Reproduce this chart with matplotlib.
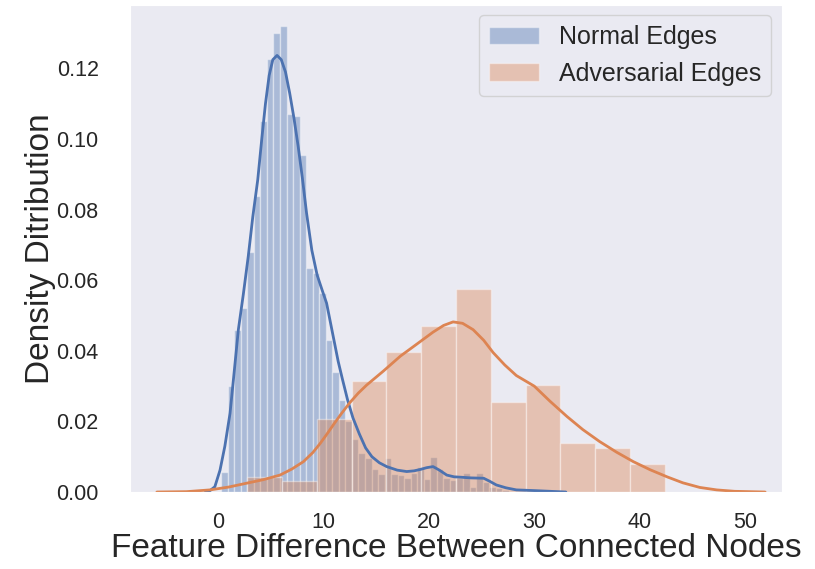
import numpy as np
import matplotlib.pyplot as plt
import seaborn as sns

sns.set_style("dark")
plt.rcParams['font.family'] = ['Liberation Sans', 'DejaVu Sans']

# normal edges: narrow histogram bins (density)
normal_start = 0.3
normal_width = 0.62
normal_heights = [0.0056, 0.030, 0.046, 0.052, 0.068, 0.084, 0.105, 0.1226,
                  0.130, 0.132, 0.107, 0.1065, 0.0956, 0.0635, 0.062, 0.0565,
                  0.043, 0.034, 0.026, 0.020, 0.015, 0.011, 0.0096, 0.0065,
                  0.0051, 0.0096, 0.005, 0.0048, 0.0039, 0.0053, 0.0072,
                  0.0036, 0.010, 0.0064, 0.0039, 0.0034, 0.0039, 0.0053,
                  0.0015, 0.0053, 0.0029, 0.0015, 0.0011, 0.0006]

# adversarial edges: wide bins
adv_start = 2.78
adv_width = 3.3
adv_heights = [0.0043, 0.0031, 0.0207, 0.0315, 0.0398, 0.0469, 0.0575,
               0.0255, 0.0303, 0.0138, 0.0126, 0.0079]

# kde curves
normal_kde_x = [-1.2, -0.76, -0.3, 0.19, 0.65, 1.14, 1.5, 1.93, 2.4, 2.87,
                3.3, 3.77, 4.15, 4.5, 4.85, 5.2, 5.6, 6.0, 6.4, 6.8, 7.2, 7.6,
                8.0, 8.4, 8.9, 9.4, 9.9, 10.3, 10.6, 11.0, 11.4, 11.8, 12.3,
                12.8, 13.4, 14.0, 14.6, 15.3, 16.0, 17.0, 17.9, 18.6, 19.2,
                19.8, 20.4, 21.0, 21.7, 22.4, 23.0, 24.0, 25.2, 25.8, 26.4,
                27.3, 28.3, 30.0, 31.5, 33.0]
normal_kde_y = [0.0, 0.0004, 0.0015, 0.0062, 0.013, 0.0223, 0.033, 0.046,
                0.056, 0.0668, 0.078, 0.0885, 0.100, 0.110, 0.118, 0.1225,
                0.1237, 0.1225, 0.119, 0.113, 0.106, 0.098, 0.089, 0.079,
                0.0685, 0.0615, 0.057, 0.0535, 0.049, 0.043, 0.037, 0.032,
                0.026, 0.021, 0.0165, 0.0125, 0.010, 0.0083, 0.0072, 0.0062,
                0.0058, 0.006, 0.0064, 0.0069, 0.0072, 0.0062, 0.0048, 0.0043,
                0.0042, 0.004, 0.0039, 0.003, 0.002, 0.0012, 0.0006, 0.0004,
                0.0002, 0.0]
adv_kde_x = [-5.8, -3.0, -0.76, 1.0, 2.72, 4.3, 5.88, 7.0, 8.1, 9.0, 9.7,
             10.4, 11.0, 11.7, 12.5, 13.3, 14.1, 15.7, 17.3, 18.9, 20.4, 21.4,
             22.3, 23.2, 24.2, 25.2, 26.1, 27.2, 28.3, 30.0, 31.5, 33.1, 34.6,
             36.2, 37.8, 39.4, 41.0, 42.6, 44.1, 45.7, 47.3, 49.0, 51.9]
adv_kde_y = [0.0, 0.0001, 0.0006, 0.0014, 0.0025, 0.0035, 0.0048, 0.0065,
             0.0086, 0.0112, 0.0138, 0.0167, 0.0193, 0.0222, 0.0253, 0.0280,
             0.0303, 0.0343, 0.0385, 0.0420, 0.0453, 0.0472, 0.0482, 0.0478,
             0.046, 0.043, 0.0395, 0.036, 0.033, 0.030, 0.0257, 0.0214,
             0.0177, 0.0143, 0.0113, 0.0086, 0.0063, 0.0043, 0.0026, 0.0013,
             0.0006, 0.0002, 0.0]

blue = sns.color_palette("deep")[0]
orange = sns.color_palette("deep")[1]

fig = plt.figure(figsize=(8.15, 5.69), dpi=100)
ax = fig.add_axes([0.1595, 0.1353, 0.8, 0.856])

n_left = normal_start + normal_width * np.arange(len(normal_heights))
ax.bar(n_left, normal_heights, width=normal_width, align='edge', color=blue,
       alpha=0.4, edgecolor='white', linewidth=1, label='Normal Edges')
ax.plot(normal_kde_x, normal_kde_y, color=blue, lw=2)

a_left = adv_start + adv_width * np.arange(len(adv_heights))
ax.bar(a_left, adv_heights, width=adv_width, align='edge', color=orange,
       alpha=0.4, edgecolor='white', linewidth=1, label='Adversarial Edges')
ax.plot(adv_kde_x, adv_kde_y, color=orange, lw=2)

ax.set_xlim(-8.35, 53.5)
ax.set_ylim(0, 0.138)
ax.set_xticks([0, 10, 20, 30, 40, 50])
ax.set_yticks([0.0, 0.02, 0.04, 0.06, 0.08, 0.10, 0.12])
ax.set_yticklabels(['0.00', '0.02', '0.04', '0.06', '0.08', '0.10', '0.12'])
ax.tick_params(axis='both', labelsize=15.5)
ax.tick_params(axis='x', pad=11)
ax.tick_params(axis='y', pad=19)
ax.set_xlabel('Feature Difference Between Connected Nodes', fontsize=24,
              labelpad=0)
ax.set_ylabel('Density Ditribution', fontsize=24, labelpad=0)
ax.legend(loc='upper right', fontsize=18, borderaxespad=0.42)

fig.savefig('out.png', dpi=100)
